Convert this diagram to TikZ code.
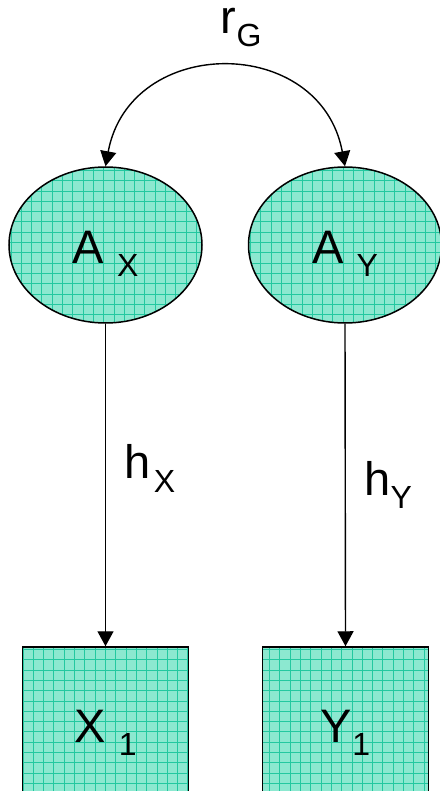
\documentclass[tikz,border=0pt]{standalone}
\usepackage{fontspec}
\setmainfont{Liberation Sans}
\usepackage{tikz}
\usetikzlibrary{shapes.geometric}
\usetikzlibrary{arrows.meta}
\definecolor{meshteal}{RGB}{140,232,208}
\definecolor{meshline}{RGB}{35,200,160}
\newcommand{\bigtext}{\fontsize{47}{50}\selectfont}
\newcommand{\subtext}[1]{\raisebox{-13.5pt}{\fontsize{32}{34}\selectfont #1}}
\tikzstyle{meshfill} = [fill=meshteal, path picture={\draw[meshline, line width=0.6pt] (path picture bounding box.south west) grid[step=10.3pt] (path picture bounding box.north east);}]
\tikzstyle{latent} = [ellipse, meshfill, draw=black, line width=1.5pt, minimum width=193pt, minimum height=156pt, inner sep=0pt, text height=50pt, text depth=14pt, font=\bigtext]
\tikzstyle{observed} = [rectangle, meshfill, draw=black, line width=1.5pt, minimum width=166pt, minimum height=160pt, inner sep=0pt, text height=40pt, text depth=10pt, font=\bigtext]
\tikzstyle{arrowline} = [line width=1.4pt]
\tikzstyle{coeff} = [inner sep=0pt, anchor=base west, font=\bigtext]

\begin{document}
\begin{tikzpicture}[x=1pt, y=-1pt, >={Triangle[length=15pt,width=16pt]}]
\useasboundingbox (0, 0) rectangle (439, 791);
% Latent factors
\node[latent] (ax) at (105.5, 245) {A \subtext{X}};
\node[latent] (ay) at (345, 245) {A \subtext{Y}};
% Observed measures
\node[observed] (x1) at (105.5, 727) {X \subtext{1}};
\node[observed] (y1) at (345.5, 727) {Y\subtext{1}};
% Genetic correlation
\draw[arrowline, <->] (ax.north) .. controls +(24.5, -132) and +(-24.5, -132) .. (ay.north)
  node[coeff, pos=0.5, xshift=-5pt, yshift=33.75pt] (rg) {r\subtext{G}};
% Factor loadings
\draw[arrowline, ->] (ax.south) -- (x1.north)
  node[coeff, pos=0.481, xshift=18.5pt] (hx) {h\kern3pt\subtext{X}};
\draw[arrowline, ->] (ay.south) -- (y1.north)
  node[coeff, pos=0.531, xshift=18.5pt] (hy) {h\subtext{Y}};
\end{tikzpicture}
\end{document}
